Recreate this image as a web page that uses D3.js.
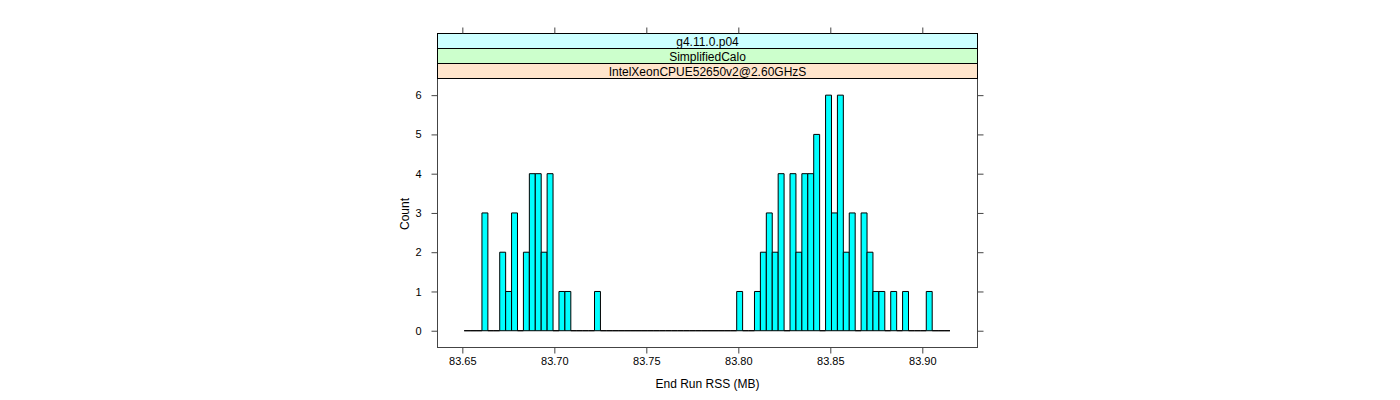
<!DOCTYPE html>
<html>
<head>
<meta charset="utf-8">
<script src="https://cdn.jsdelivr.net/npm/d3@7"></script>
<style>
  html, body { margin: 0; padding: 0; background: #fff; }
  svg { display: block; }
  text { font-family: "Liberation Sans", Arial, Helvetica, sans-serif; fill: #000; }
</style>
</head>
<body>
<svg id="chart" width="1400" height="400"></svg>
<script>
// ---- data ----
const stripLabels = ["IntelXeonCPUE52650v2@2.60GHzS", "SimplifiedCalo", "g4.11.0.p04"]; // bottom to top
const stripColors = ["#FFE5CC", "#CCFFCC", "#CCFFFF"];
const breakStart = 83.651;
const binWidth = 0.00322;
const counts = [
  0,0,0,3,0,0,2,1,3,0, 2,4,4,2,4,0,1,1,0,0,
  0,0,1,0,0,0,0,0,0,0, 0,0,0,0,0,0,0,0,0,0,
  0,0,0,0,0,0,1,0,0,1, 2,3,2,4,0,4,2,4,4,5,
  0,6,3,6,2,3,0,3,2,1, 1,0,1,0,1,0,0,0,1,0,
  0,0
];
const xTicks = [83.65, 83.70, 83.75, 83.80, 83.85, 83.90];
const yTicks = [0, 1, 2, 3, 4, 5, 6];
const xTitle = "End Run RSS (MB)";
const yTitle = "Count";

// ---- layout ----
const panel = { left: 437.5, right: 977.5, top: 78.5, bottom: 347.5 };
const stripH = 15;

const svg = d3.select("#chart");
const x = d3.scaleLinear().domain([83.6365, 83.93]).range([panel.left, panel.right]);
const y = d3.scaleLinear().domain([-0.427, 6.424]).range([panel.bottom, panel.top]);

// bins
const bins = counts.map((c, i) => ({ x0: breakStart + i * binWidth, x1: breakStart + (i + 1) * binWidth, c }));

svg.append("g").selectAll("path").data(bins).join("path")
  .attr("d", d => `M${x(d.x0)},${y(0)}V${y(d.c)}H${x(d.x1)}V${y(0)}Z`)
  .attr("fill", "#00FFFF")
  .attr("stroke", "#000")
  .attr("stroke-width", 1);

// panel border
svg.append("rect")
  .attr("x", panel.left).attr("y", panel.top)
  .attr("width", panel.right - panel.left).attr("height", panel.bottom - panel.top)
  .attr("fill", "none").attr("stroke", "#444").attr("stroke-width", 1);

// strips (stacked above panel, first at bottom)
stripLabels.forEach((lab, i) => {
  const yTop = panel.top - (i + 1) * stripH;
  svg.append("rect")
    .attr("x", panel.left).attr("y", yTop)
    .attr("width", panel.right - panel.left).attr("height", stripH)
    .attr("fill", stripColors[i]).attr("stroke", "#000").attr("stroke-width", 1);
  svg.append("text")
    .attr("x", (panel.left + panel.right) / 2).attr("y", yTop + stripH / 2 + 4.5)
    .attr("text-anchor", "middle").attr("font-size", 12)
    .text(lab);
});
const stripTop = panel.top - stripLabels.length * stripH;

// bottom axis
const bottomAxis = d3.axisBottom(x).tickValues(xTicks).tickSize(6).tickPadding(4)
  .tickFormat(d3.format(".2f"));
const gb = svg.append("g").attr("transform", `translate(0,${panel.bottom})`).call(bottomAxis);
gb.select(".domain").remove();
gb.selectAll("text").attr("font-size", 11).attr("font-family", "'Liberation Sans', Arial, sans-serif");
gb.selectAll("line").attr("stroke", "#444");

// top axis ticks (no labels)
const topAxis = d3.axisTop(x).tickValues(xTicks).tickSize(6).tickFormat("");
const gt = svg.append("g").attr("transform", `translate(0,${stripTop})`).call(topAxis);
gt.select(".domain").remove();
gt.selectAll("line").attr("stroke", "#444");

// left axis
const leftAxis = d3.axisLeft(y).tickValues(yTicks).tickSize(6).tickPadding(10).tickFormat(d3.format("d"));
const gl = svg.append("g").attr("transform", `translate(${panel.left},0)`).call(leftAxis);
gl.select(".domain").remove();
gl.selectAll("text").attr("font-size", 11).attr("font-family", "'Liberation Sans', Arial, sans-serif");
gl.selectAll("line").attr("stroke", "#444");

// right axis ticks
const rightAxis = d3.axisRight(y).tickValues(yTicks).tickSize(6).tickFormat("");
const gr = svg.append("g").attr("transform", `translate(${panel.right},0)`).call(rightAxis);
gr.select(".domain").remove();
gr.selectAll("line").attr("stroke", "#444");

// titles
svg.append("text")
  .attr("x", (panel.left + panel.right) / 2).attr("y", 388)
  .attr("text-anchor", "middle").attr("font-size", 12)
  .text(xTitle);
svg.append("text")
  .attr("transform", `translate(409,${(panel.top + panel.bottom) / 2 + 1}) rotate(-90)`)
  .attr("text-anchor", "middle").attr("font-size", 12)
  .text(yTitle);
</script>
</body>
</html>
